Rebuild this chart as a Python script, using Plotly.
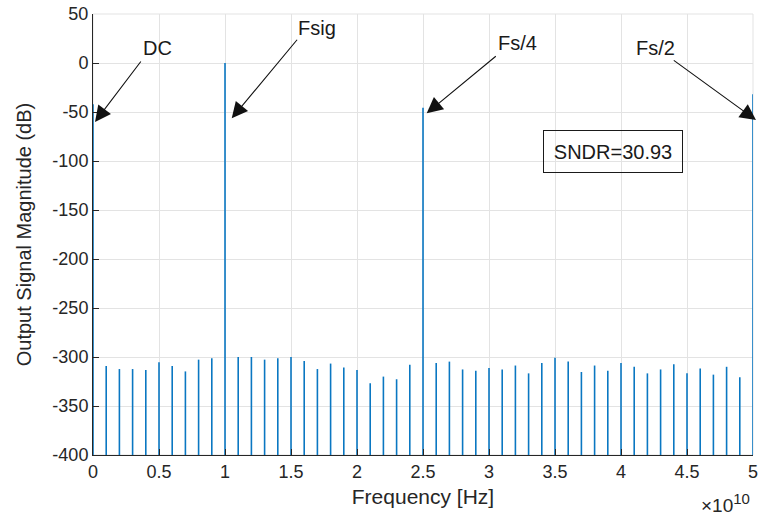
import plotly.graph_objects as go

# FFT bin frequencies in GHz (bin spacing 1 GHz, DC to Fs/2 = 50 GHz)
freq_ghz = [0, 1, 2, 3, 4, 5, 6, 7, 8, 9,
            10, 11, 12, 13, 14, 15, 16, 17, 18, 19,
            20, 21, 22, 23, 24, 25, 26, 27, 28, 29,
            30, 31, 32, 33, 34, 35, 36, 37, 38, 39,
            40, 41, 42, 43, 44, 45, 46, 47, 48, 49, 50]

# Output spectrum magnitude per bin (dB)
magnitude_db = [-42.0, -309.3, -312.3, -312.3, -313.3, -305.3, -309.3, -314.7, -302.7, -301.3,
                0.0, -300.0, -300.0, -302.7, -301.3, -300.0, -304.0, -312.3, -306.7, -310.7,
                -313.3, -326.7, -320.0, -322.7, -308.0, -45.6, -306.0, -304.7, -312.7, -314.0,
                -311.3, -312.7, -308.7, -316.7, -306.0, -300.7, -304.7, -315.3, -308.7, -314.0,
                -306.0, -310.0, -316.7, -312.7, -307.3, -316.7, -311.7, -318.0, -310.0, -320.7, -32.0]

stem_base_db = -400
x_tick_vals = [0, 0.5e10, 1e10, 1.5e10, 2e10, 2.5e10, 3e10, 3.5e10, 4e10, 4.5e10, 5e10]
x_tick_text = ["0", "0.5", "1", "1.5", "2", "2.5", "3", "3.5", "4", "4.5", "5"]
y_tick_vals = [50, 0, -50, -100, -150, -200, -250, -300, -350, -400]
y_tick_text = ["50", "0", "-50", "-100", "-150", "-200", "-250", "-300", "-350", "-400"]

sndr_db = 30.93

# Labelled spectral features:
# (label, arrow tip x [Hz], arrow tip y [dB], tip x-shift px, tail offset px, label position px)
markers = [
    ("DC",   0.015e10, -60.2, 0, (47, -62),     (157, 48)),
    ("Fsig", 1.051e10, -56.4, 0, (66.6, -80),   (317, 28)),
    ("Fs/4", 2.528e10, -51.3, 0, (70.6, -58.3), (517, 43)),
    ("Fs/2", 5.0e10,   -58.2, 3, (-80.7, -60.7), (655, 48)),
]

W, H = 760, 516
L, R, T, B = 93, 7, 14, 61
plot_w, plot_h = W - L - R, H - T - B


def px_to_paper(px, py):
    return (px - L) / plot_w, (H - B - py) / plot_h


# Stems drawn as one polyline broken with gaps
sx, sy = [], []
for f, m in zip(freq_ghz, magnitude_db):
    sx += [f * 1e9, f * 1e9, None]
    sy += [stem_base_db, m, None]

fig = go.Figure()
fig.add_trace(go.Scatter(
    x=sx, y=sy, mode="lines",
    line=dict(color="#0A77C2", width=1.6),
    hoverinfo="skip", showlegend=False, cliponaxis=False,
))

font_family = "Liberation Sans, Arial, Helvetica, sans-serif"
axis_font = dict(family=font_family, size=18, color="#262626")
grid_col = "#e3e3e3"

# light frame on the top/right edges
fig.add_shape(type="rect", xref="paper", yref="paper", x0=0, y0=0, x1=1, y1=1,
              line=dict(color=grid_col, width=1), layer="below")

annotations = []
for label, hx, hy, shift, (ax, ay), (tx, ty) in markers:
    annotations.append(dict(
        x=hx, y=hy, xref="x", yref="y", ax=ax - shift, ay=ay, axref="pixel", ayref="pixel",
        xshift=shift, text="", showarrow=True, arrowhead=2, arrowsize=2.9, arrowwidth=1.1,
        arrowcolor="#111111", standoff=0,
    ))
    px, py = px_to_paper(tx, ty)
    annotations.append(dict(
        x=px, y=py, xref="paper", yref="paper", text=label, showarrow=False,
        xanchor="center", yanchor="middle",
        font=dict(family=font_family, size=20, color="#1a1a1a"),
    ))

bx, by = px_to_paper(612.7, 151)
annotations.append(dict(
    x=bx, y=by, xref="paper", yref="paper", text=f"SNDR={sndr_db:.2f}", showarrow=False,
    xanchor="center", yanchor="middle", width=134, height=37, borderpad=2,
    bordercolor="#1a1a1a", borderwidth=1,
    font=dict(family=font_family, size=20, color="#1a1a1a"),
))

ex, ey = px_to_paper(752, 503)
annotations.append(dict(
    x=ex, y=ey, xref="paper", yref="paper",
    text="×10<sup><span style='font-size:15px'>10</span></sup>", showarrow=False,
    xanchor="right", yanchor="middle",
    font=dict(family=font_family, size=19, color="#262626"),
))

fig.update_layout(
    width=W, height=H,
    margin=dict(l=L, r=R, t=T, b=B, pad=0, autoexpand=False),
    paper_bgcolor="white", plot_bgcolor="white",
    annotations=annotations,
    xaxis=dict(
        range=[0, 5e10], tickvals=x_tick_vals, ticktext=x_tick_text,
        showgrid=True, gridcolor=grid_col, gridwidth=1,
        showline=True, linecolor="#262626", linewidth=1,
        ticks="inside", ticklen=6, tickcolor="#262626", tickwidth=1,
        tickfont=axis_font, zeroline=False, automargin=False,
        title=dict(text="Frequency [Hz]", standoff=8,
                   font=dict(family=font_family, size=21, color="#262626")),
    ),
    yaxis=dict(
        range=[-400, 50], tickvals=y_tick_vals, ticktext=y_tick_text,
        showgrid=True, gridcolor=grid_col, gridwidth=1,
        showline=True, linecolor="#262626", linewidth=1,
        ticks="inside", ticklen=6, tickcolor="#262626", tickwidth=1,
        tickfont=axis_font, zeroline=False, automargin=False,
        title=dict(text="Output Signal Magnitude (dB)", standoff=15,
                   font=dict(family=font_family, size=20, color="#262626")),
    ),
)

fig.write_html("out.html")
